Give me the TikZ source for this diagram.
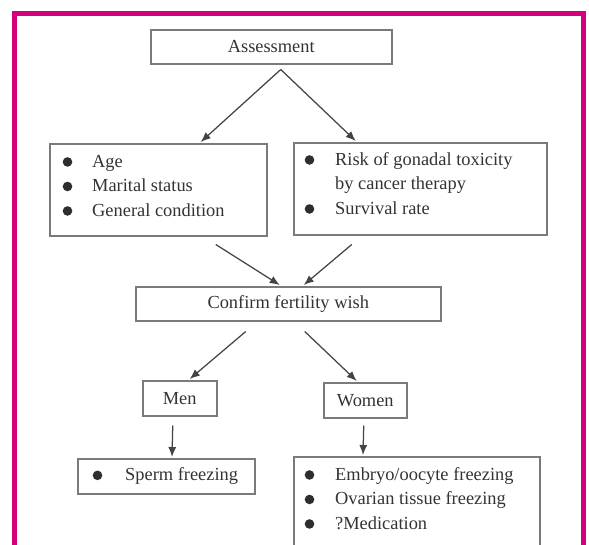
\documentclass[tikz,border=0pt]{standalone}
\usepackage{fontspec}
\setmainfont{Liberation Serif}
\usetikzlibrary{arrows.meta,calc}
\definecolor{framec}{HTML}{D5007E}
\definecolor{txt}{HTML}{333333}
\definecolor{boxc}{HTML}{7A7A7A}
\definecolor{arrc}{HTML}{444444}
\newcommand\bul{\tikz[baseline=0pt]\fill[txt!90!black] (4.8pt,5.4pt) circle (4.8pt);}
\newcommand\fsz{\fontsize{18.4pt}{24.5pt}\selectfont}
\begin{document}
\begin{tikzpicture}[x=1pt,y=-1pt,
  box/.style={draw=boxc,line width=1.5pt,inner sep=0pt,anchor=north west,text=txt,font=\fsz},
  lst/.style={text=txt,font=\fsz,inner sep=0pt,anchor=north west},
  arr/.style={draw=arrc,line width=1.25pt,-{Latex[length=10pt,width=8pt]}}]
\useasboundingbox (0,0) rectangle (589,544);
\begin{scope}
\clip (0,0) rectangle (589,544);
\draw[framec,line width=5pt] (14,560) -- (14,13) -- (583.5,13) -- (583.5,560);
\node[box,minimum width=241pt,minimum height=34pt] (assess) at (150,29) {Assessment};
\node[box,minimum width=217pt,minimum height=92pt] (left) at (49,143) {};
\node[box,minimum width=253pt,minimum height=92pt] (right) at (293,142) {};
\node[box,minimum width=305pt,minimum height=34pt] (confirm) at (135,286) {Confirm fertility wish};
\node[box,minimum width=74pt,minimum height=35pt] (men) at (142,380) {Men};
\node[box,minimum width=83pt,minimum height=35pt] (women) at (323,382) {Women};
\node[box,minimum width=177pt,minimum height=35pt] (sperm) at (77,458) {};
\node[box,minimum width=246pt,minimum height=120pt] (wlist) at (293,456) {};

\node[lst] (lt) at ($(left.north west)+(13.5,7)$) {\begin{tabular}{@{}p{29.5pt}@{}l@{}}\bul&Age\\\bul&Marital status\\\bul&General condition\end{tabular}};
\node[lst] (rt) at ($(right.north west)+(11.5,6)$) {\begin{tabular}{@{}p{30.5pt}@{}l@{}}\bul&Risk of gonadal toxicity\\&by cancer therapy\\\bul&Survival rate\end{tabular}};
\node[lst,anchor=west] (st) at ($(sperm.west)+(15.5,0)$) {\makebox[32.5pt][l]{\bul}Sperm freezing};
\node[lst] (wt) at ($(wlist.north west)+(11.5,7)$) {\begin{tabular}{@{}p{30.5pt}@{}l@{}}\bul&Embryo/oocyte freezing\\\bul&Ovarian tissue freezing\\\bul&?Medication\end{tabular}};

\coordinate (s1) at ($(assess.south)+(9.5,5)$);
\draw[arr] (s1) -- ($(left.north)+(42.5,-1)$);
\draw[arr] (s1) -- ($(right.north)+(-64.5,-1)$);
\draw[arr] ($(left.south)+(57.5,8)$) -- ($(confirm.north)+(-8.5,-1)$);
\draw[arr] ($(right.south)+(-68.5,9)$) -- ($(confirm.north)+(15.5,-1)$);
\draw[arr] ($(confirm.south)+(-42.5,10)$) -- ($(men.north)+(10,-1)$);
\draw[arr] ($(confirm.south)+(16.5,10)$) -- ($(women.north)+(-8.5,-1)$);
\draw[arr] ($(men.south)+(-7,9)$) -- ($(sperm.north west)+(95,-1)$);
\draw[arr] ($(women.south)+(-1.5,7)$) -- ($(wlist.north west)+(70,-1)$);
\end{scope}
\end{tikzpicture}
\end{document}
